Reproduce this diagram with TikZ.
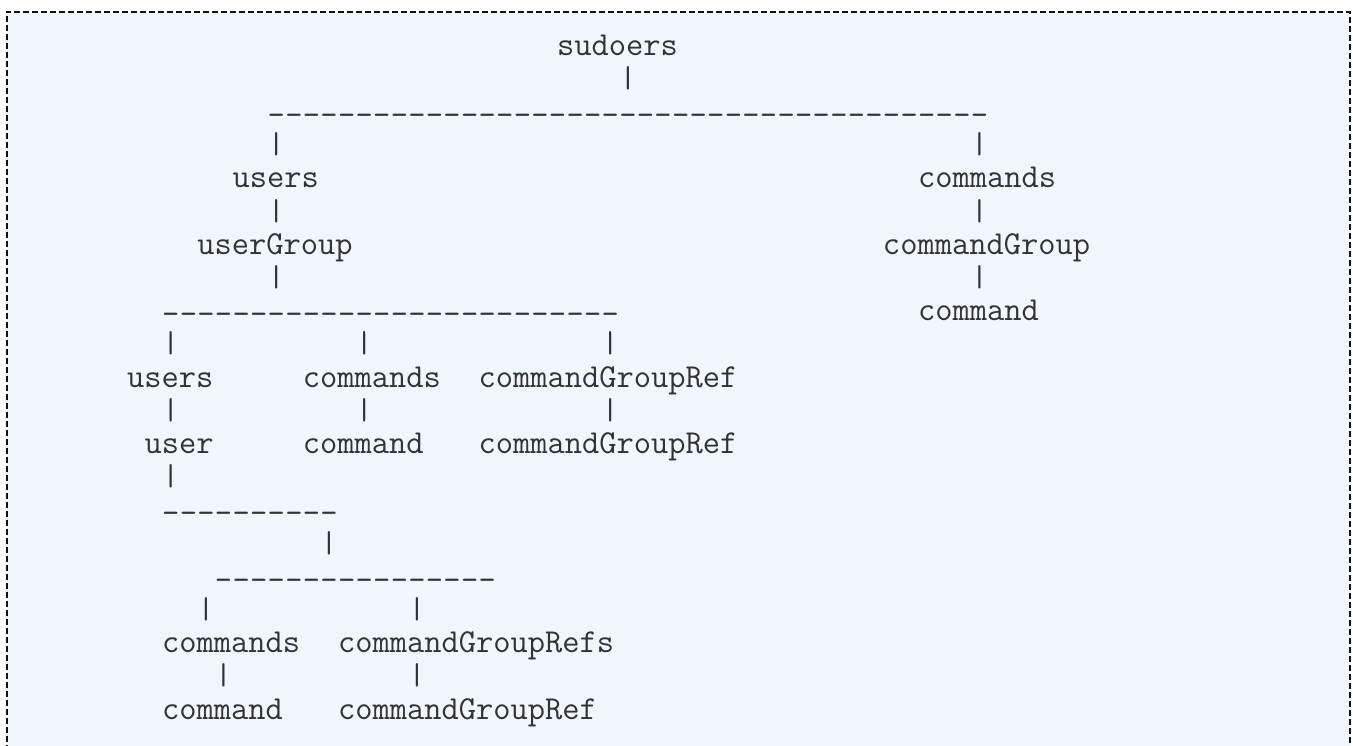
\documentclass[tikz,border=0pt]{standalone}
\usepackage{graphicx}
\definecolor{bgfill}{RGB}{241,246,250}
\definecolor{ink}{RGB}{51,51,51}
\definecolor{framecol}{RGB}{17,17,17}
\tikzset{
  txt/.style={anchor=base west, inner sep=0pt, outer sep=0pt, text=ink,
    font=\ttfamily\fontsize{33.5}{33.5}\selectfont},
  pipe/.style={txt},
  framestyle/.style={draw=framecol, line width=2pt, dash pattern=on 6pt off 3pt}
}
\newcommand\vbar{\raisebox{1pt}{\scalebox{1}[0.9]{|}}}
\newcommand\hdash{\raisebox{-4pt}{-}}
\begin{document}
\begin{tikzpicture}[x=17.58pt, y=-33.2pt]
\useasboundingbox (0pt,0pt) rectangle (1353pt,-745pt);
\clip (0pt,0pt) rectangle (1353pt,-745pt);
\fill[bgfill] (6.7pt,-11.7pt) rectangle (1350.3pt,-760pt);
\draw[framestyle] (6.7pt,-760pt) -- (6.7pt,-11.7pt) -- (1350.3pt,-11.7pt) -- (1350.3pt,-760pt);
\begin{scope}[shift={(2.227,1.6566)}]
% row 0-1
\node[txt] (sudoers) at (29.46,0) {sudoers};
\node[pipe] (p1) at (33,1) {\vbar};
% row 2
\foreach \c in {13,...,53} \node[txt] (d2-\c) at (\c,2) {\hdash};
% rows 3-8
\node[pipe] (p3a) at (13,3) {\vbar};
\node[pipe] (p3b) at (53,3) {\vbar};
\node[txt] (users1) at (11,4) {users};
\node[txt] (commands1) at (50,4) {commands};
\node[pipe] (p5a) at (13,5) {\vbar};
\node[pipe] (p5b) at (53,5) {\vbar};
\node[txt] (userGroup) at (9,6) {userGroup};
\node[txt] (commandGroup) at (48,6) {commandGroup};
\node[pipe] (p7a) at (13,7) {\vbar};
\node[pipe] (p7b) at (53,7) {\vbar};
\foreach \c in {7,...,32} \node[txt] (d8-\c) at (\c,8) {\hdash};
\node[txt] (command1) at (50,8) {command};
% rows 9-13
\node[pipe] (p9a) at (7,9) {\vbar};
\node[pipe] (p9b) at (18,9) {\vbar};
\node[pipe] (p9c) at (32,9) {\vbar};
\node[txt] (users2) at (5,10) {users};
\node[txt] (commands2) at (15,10) {commands};
\node[txt] (cgr1) at (25,10) {commandGroupRef};
\node[pipe] (p11a) at (7,11) {\vbar};
\node[pipe] (p11b) at (18,11) {\vbar};
\node[pipe] (p11c) at (32,11) {\vbar};
\node[txt] (user) at (6,12) {user};
\node[txt] (command2) at (15,12) {command};
\node[txt] (cgr2) at (25,12) {commandGroupRef};
\node[pipe] (p13) at (7,13) {\vbar};
% rows 14-20
\foreach \c in {7,...,16} \node[txt] (d14-\c) at (\c,14) {\hdash};
\node[pipe] (p15) at (16,15) {\vbar};
\foreach \c in {10,...,25} \node[txt] (d16-\c) at (\c,16) {\hdash};
\node[pipe] (p17a) at (9,17) {\vbar};
\node[pipe] (p17b) at (21,17) {\vbar};
\node[txt] (commands3) at (7,18) {commands};
\node[txt] (cgrs) at (17,18) {commandGroupRefs};
\node[pipe] (p19a) at (10,19) {\vbar};
\node[pipe] (p19b) at (21,19) {\vbar};
\node[txt] (command3) at (7,20) {command};
\node[txt] (cgr3) at (17,20) {commandGroupRef};
\end{scope}
\end{tikzpicture}
\end{document}
